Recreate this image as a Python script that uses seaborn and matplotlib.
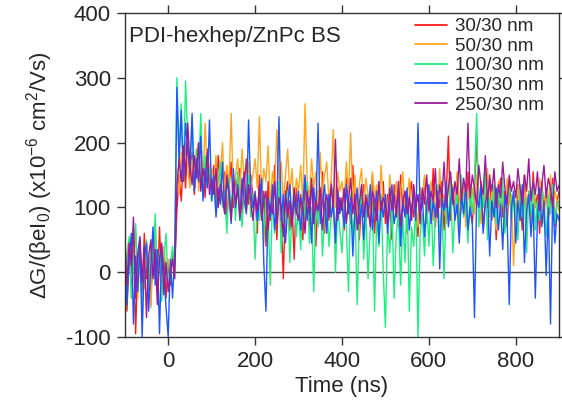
import matplotlib
matplotlib.use("Agg")
import matplotlib.pyplot as plt
import numpy as np
import pandas as pd
import seaborn as sns

# time axis, 5 ns sampling from -100 to 900 ns
time_ns = np.arange(-100, 901, 5)

labels = ["30/30 nm", "50/30 nm", "100/30 nm", "150/30 nm", "250/30 nm"]
colors = ["#ff1a1a", "#ffa51f", "#1fee80", "#1f55ff", "#9b1a9b"]

s30 = [
    10, -60, 35, -20, 55, -95, 20, 40, -35, 60, -10, 25, -50, 45, 5, -30, 70, -15, 30, -40,
    15, -20, 30, 10, 95, 150, 110, 175, 130, 210, 140, 185, 120, 160, 200, 135, 170, 115, 190, 150,
    125, 165, 95, 180, 140, 110, 155, 85, 130, 170, 100, 145, 120, 160, 90, 135, 175, 105, 150, 115,
    120, 60, 150, 90, 125, 40, 140, 80, 105, 165, 50, 130, 90, -10, 115, 140, 65, 105, 20, 130,
    85, 120, 50, 145, 100, 70, 135, 110, 40, 125, 90, 155, 60, 115, 80, 140, 100, 55, 130, 95,
    115, 65, 145, 105, 75, 165, 90, 125, 50, 110, 135, 70, 120, 95, 150, 60, 110, 130, 80, 140,
    75, 120, 100, 50, 135, 110, 70, 150, 95, 125, 60, 115, 140, 85, 105, 55, 130, 100, 145, 75,
    115, 85, 160, 70, 125, 100, 140, 65, 120, 210, 80, 130, 95, 150, 70, 115, 135, 85, 155, 100,
    75, 125, 215, 90, 140, 65, 120, 100, 150, 80, 130, 50, 115, 145, 85, 125, 70, 140, 95, 120,
    80, 135, 110, 65, 150, 90, 125, 75, 155, 100, 120, 60, 140, 95, 130, 80, 115, 145, 70, 110,
    125,
]
s50 = [
    -20, 30, 50, -10, 20, 65, -40, 35, 10, -25, 45, 15, -55, 30, 60, -5, 25, -30, 40, 5,
    20, -10, 35, 25, 160, 120, 185, 145, 200, 160, 130, 175, 150, 190, 125, 165, 140, 230, 155, 135,
    160, 130, 180, 105, 150, 200, 120, 165, 135, 245, 115, 150, 175, 125, 190, 140, 105, 170, 130, 150,
    175, 130, 240, 115, 160, 140, 195, 100, 155, 125, 220, 135, 170, 110, 150, 190, 120, 160, 90, 145,
    125, 165, 105, 260, 140, 115, 175, 130, 155, 95, 185, 120, 150, 170, 110, 140, 220, 100, 155, 125,
    140, 105, 170, 120, 215, 110, 150, 80, 135, 160, 100, 145, 120, 75, 155, 115, 135, 95, 165, 105,
    120, 85, 150, 110, 100, 140, 75, 125, 155, 90, 115, 145, 80, 135, 105, 70, 130, 110, 150, 95,
    110, 140, 80, 130, 100, 160, 90, 120, 75, 145, 105, 135, 85, 155, 115, 95, 135, 70, 125, 105,
    130, 90, 150, 110, 75, 135, 100, 160, 85, 125, 105, 65, 140, 95, 125, 80, 145, 105, 120, 10,
    100, 135, 80, 125, 150, 95, 120, 70, 135, 105, 90, 145, 110, 75, 130, 100, 150, 85, 125, 110,
    95,
]
s100 = [
    -90, 20, 55, -40, 10, 75, -20, 35, -65, 15, 50, -30, 40, 5, 90, -10, 30, -45, 20, 60,
    -20, 10, 40, 0, 300, 180, 260, 150, 295, 200, 160, 240, 130, 190, 150, 245, 120, 180, 140, 160,
    110, 150, 90, 140, 170, 100, 125, 60, 145, 95, 130, 80, 155, 110, 70, 135, 100, 150, 85, 120,
    20, 105, 80, 130, 45, 115, 90, -20, 120, 60, 100, 140, 30, 110, 75, 125, 15, 95, 130, 55,
    105, 35, 120, 80, 140, 45, 100, -30, 110, 70, 130, 25, 90, 115, 40, 85, 130, 0, 105, 65,
    30, 105, 70, -30, 120, 55, 95, -50, 80, 130, 20, 100, -10, 65, 110, -60, 90, 40, 120, 0,
    -85, 75, 30, 110, -40, 60, 95, -20, 85, 15, 120, -60, 70, 40, 105, -100, 60, 90, 25, 110,
    40, 120, 10, 85, 135, 50, 100, -10, 115, 75, 140, 30, 95, 120, 60, 150, 85, 110, 45, 130,
    90, 140, 245, 70, 120, 100, 155, 50, 115, 85, 135, 75, 125, 95, 145, 60, 110, 130, 80, 120,
    100, 50, 135, 85, 115, 30, 125, 90, 140, 65, 110, 80, 130, 100, 55, 120, 90, 135, 75, 105,
    110,
]
s150 = [
    30, -50, 15, 60, -80, 25, -30, 50, -100, 20, 45, -60, 10, 70, -20, 35, -95, 40, 0, -55,
    -100, 20, -40, 30, 285, 170, 250, 140, 230, 190, 155, 245, 125, 175, 140, 210, 110, 160, 130, 235,
    110, 150, 85, 130, 105, 170, 90, 140, 120, 75, 160, 100, 135, 80, 145, 110, 90, 235, 125, 100,
    125, 80, 110, 145, 15, -60, 115, 85, 135, 65, 105, 240, 80, 120, 45, 100, 135, 75, 110, 90,
    125, 65, 105, 150, 80, 115, 45, 130, 95, 230, 75, 110, 135, 60, 120, 85, 105, 45, 125, 90,
    110, 70, 135, 90, 115, 25, 100, 130, 75, 105, 50, 120, 85, 135, 65, 100, 125, 45, 110, 85,
    120, 60, 105, 135, 75, 95, 125, 40, 110, 85, 130, 65, 100, 120, 80, 230, 90, 115, 55, 105,
    135, 75, 110, 85, 125, 5, 115, 95, 140, 70, 110, 130, 80, 105, 45, 120, 90, 135, 65, 100,
    75, -70, 115, 100, 135, 60, 105, 125, 25, 110, 85, 130, 65, 105, 35, 120, 90, -50, 100, 125,
    45, 110, 80, 135, 15, 95, 120, 55, 105, -40, 85, 130, 70, 110, -5, 100, -80, 115, 45, 90,
    80,
]
s250 = [
    60, -20, 45, 10, 85, -40, 30, 55, -15, 40, -70, 25, 50, -10, 35, -50, 20, 45, -35, 15,
    -30, 0, 20, -10, 130, 175, 140, 195, 150, 230, 165, 135, 180, 145, 200, 125, 160, 140, 185, 120,
    145, 120, 160, 100, 135, 115, 90, 150, 125, 80, 140, 105, 130, 85, 120, 155, 95, 135, 110, 80,
    120, 95, 135, 80, 110, 125, 65, 105, 90, 140, 75, 115, 100, 55, 125, 85, 110, 70, 130, 95,
    80, 115, 100, 60, 125, 90, 145, 75, 110, 95, 130, 65, 105, 120, 85, 135, 100, 205, 80, 115,
    95, 130, 75, 110, 145, 90, 120, 65, 105, 135, 85, 115, 100, 70, 125, 110, 80, 140, 95, 115,
    105, 75, 130, 95, 120, 85, 140, 70, 110, 125, 90, 115, 80, 135, 100, 120, 75, 130, 105, 150,
    95, 125, 110, 160, 85, 135, 115, 170, 100, 130, 155, 105, 140, 120, 175, 110, 145, 125, 230, 115,
    150, 130, 105, 165, 135, 120, 180, 110, 145, 125, 160, 100, 135, 115, 170, 130, 105, 150, 125, 140,
    115, 160, 130, 105, 150, 125, 175, 110, 140, 120, 155, 95, 135, 165, 115, 145, 130, 100, 155, 125,
    135,
]

series = [s30, s50, s100, s150, s250]
df = pd.concat(
    [pd.DataFrame({"time": time_ns, "value": vals, "sample": lab}) for lab, vals in zip(labels, series)],
    ignore_index=True,
)

sns.set_style("ticks")
plt.rcParams["font.family"] = ["Liberation Sans", "DejaVu Sans"]
plt.rcParams["mathtext.fontset"] = "custom"
plt.rcParams["mathtext.rm"] = "Liberation Sans"
plt.rcParams["mathtext.it"] = "Liberation Sans"
plt.rcParams["axes.unicode_minus"] = False

fig = plt.figure(figsize=(5.62, 4.08), dpi=100)
ax = fig.add_axes([0.222, 0.174, 0.773, 0.794])

ax.axhline(0, color="#444444", lw=1.0, zorder=1)
sns.lineplot(
    data=df, x="time", y="value", hue="sample", hue_order=labels,
    palette=dict(zip(labels, colors)), estimator=None, sort=False,
    linewidth=1.0, ax=ax, zorder=2,
)

ax.set_xlim(-100, 900)
ax.set_ylim(-100, 400)
ax.set_xticks([0, 200, 400, 600, 800])
ax.set_yticks([-100, 0, 100, 200, 300, 400])
ax.tick_params(direction="out", top=True, right=True, labelsize=16,
               length=6, width=1, color="#333333", pad=4)
for sp in ax.spines.values():
    sp.set_color("#333333")
    sp.set_linewidth(1)

ax.set_xlabel("Time (ns)", fontsize=16, labelpad=3)
ax.set_ylabel("ΔG/(βeI$_0$) (x10$^{-6}$ cm$^2$/Vs)", fontsize=16, labelpad=8)

ax.text(0.01, 0.929, "PDI-hexhep/ZnPc BS", transform=ax.transAxes,
        fontsize=16, va="center", ha="left")

leg = ax.legend(loc="upper right", bbox_to_anchor=(0.965, 0.984), frameon=False,
                fontsize=13.5, handlelength=1.7, handletextpad=0.45,
                labelspacing=0.13, borderaxespad=0, borderpad=0)
for line in leg.get_lines():
    line.set_linewidth(1.3)

fig.savefig("out.png", dpi=100)
